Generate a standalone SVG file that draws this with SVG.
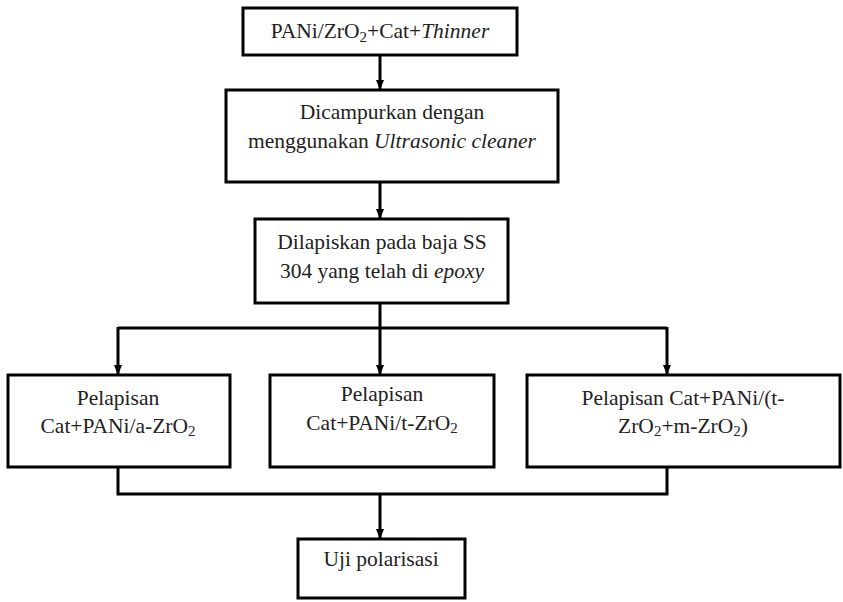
<svg xmlns="http://www.w3.org/2000/svg" width="843" height="602" viewBox="0 0 843 602">
<style>
.box{fill:#fff;stroke:#000;stroke-width:3}
.ln{fill:none;stroke:#000;stroke-width:3}
text{font-family:"Liberation Serif","Times New Roman",serif;font-size:21.5px;fill:#222;text-anchor:middle}
.i{font-style:italic}
.s{font-size:15px}
</style>
<defs>
<marker id="ah" markerWidth="10" markerHeight="11" refX="9" refY="5" orient="auto" markerUnits="userSpaceOnUse">
<path d="M0,1 L10,5 L0,9 Z" fill="#000"/>
</marker>
</defs>
<g id="connectors">
<line class="ln" x1="380" y1="55" x2="380" y2="89" marker-end="url(#ah)"/>
<line class="ln" x1="380" y1="182" x2="380" y2="218" marker-end="url(#ah)"/>
<path class="ln" d="M380,303 V328 M118,328 H667"/>
<line class="ln" x1="118" y1="327" x2="118" y2="374" marker-end="url(#ah)"/>
<line class="ln" x1="380" y1="327" x2="380" y2="374" marker-end="url(#ah)"/>
<line class="ln" x1="667" y1="327" x2="667" y2="374" marker-end="url(#ah)"/>
<path class="ln" d="M118,467 V494 H667 V467"/>
<line class="ln" x1="380" y1="494" x2="380" y2="538" marker-end="url(#ah)"/>
</g>
<g id="n1">
<rect class="box" x="243" y="8" width="274" height="47"/>
<text x="380" y="38">PANi/ZrO<tspan class="s" dy="4">2</tspan><tspan dy="-4">+Cat+</tspan><tspan class="i">Thinner</tspan></text>
</g>
<g id="n2">
<rect class="box" x="226" y="90" width="332" height="92"/>
<text x="392" y="119">Dicampurkan dengan</text>
<text x="392" y="148">menggunakan <tspan class="i">Ultrasonic cleaner</tspan></text>
</g>
<g id="n3">
<rect class="box" x="255" y="219" width="253" height="84"/>
<text x="382" y="249">Dilapiskan pada baja SS</text>
<text x="382" y="278">304 yang telah di <tspan class="i">epoxy</tspan></text>
</g>
<g id="n4">
<rect class="box" x="8" y="375" width="222" height="92"/>
<text x="118" y="405">Pelapisan</text>
<text x="118" y="433">Cat+PANi/a-ZrO<tspan class="s" dy="3">2</tspan></text>
</g>
<g id="n5">
<rect class="box" x="270" y="375" width="224" height="92"/>
<text x="382" y="401">Pelapisan</text>
<text x="382" y="430">Cat+PANi/t-ZrO<tspan class="s" dy="3">2</tspan></text>
</g>
<g id="n6">
<rect class="box" x="527" y="375" width="313" height="92"/>
<text x="683" y="405">Pelapisan Cat+PANi/(t-</text>
<text x="683" y="433">ZrO<tspan class="s" dy="3">2</tspan><tspan dy="-3">+m-ZrO</tspan><tspan class="s" dy="3">2</tspan><tspan dy="-3">)</tspan></text>
</g>
<g id="n7">
<rect class="box" x="298" y="539" width="167" height="59"/>
<text x="381" y="566">Uji polarisasi</text>
</g>
</svg>
